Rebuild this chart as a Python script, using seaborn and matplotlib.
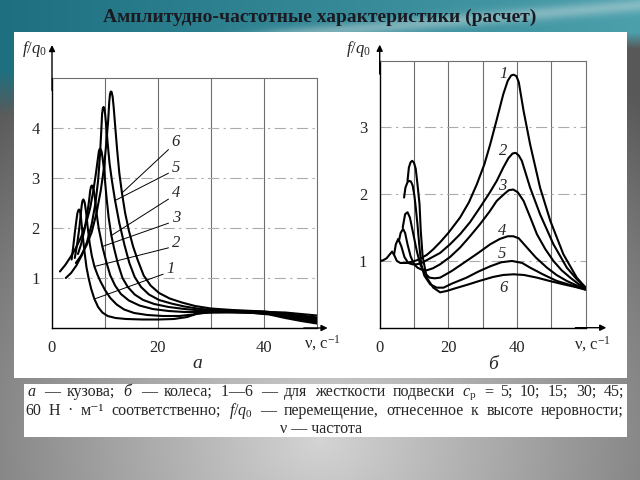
import numpy as np
import pandas as pd
import matplotlib
matplotlib.use("Agg")
import matplotlib.pyplot as plt
from matplotlib.patches import Rectangle
import seaborn as sns

# ---------------- data ----------------
curve_names = ["1", "2", "3", "4", "5", "6"]

# (a) body ("кузова")
body_x1 = [3.7, 4.0, 4.3, 4.6, 4.8, 4.95, 5.1, 5.25, 5.4, 5.55, 5.8, 6.1, 6.5, 6.9, 7.4, 8.0, 8.7, 9.5, 10.5, 12, 14, 17, 20, 23, 25.5, 27.5, 30, 34, 38, 41, 44, 47, 50]
body_y1 = [1.37, 1.62, 1.9, 2.15, 2.3, 2.35, 2.37, 2.35, 2.27, 2.12, 1.85, 1.55, 1.22, 1.0, 0.78, 0.58, 0.42, 0.31, 0.24, 0.2, 0.18, 0.17, 0.17, 0.18, 0.22, 0.29, 0.31, 0.31, 0.3, 0.27, 0.2, 0.14, 0.09]
body_x2 = [4.3, 4.7, 5.1, 5.4, 5.6, 5.75, 5.9, 6.05, 6.2, 6.45, 6.75, 7.1, 7.5, 8.0, 8.6, 9.2, 10, 11, 12.2, 13.6, 15.5, 18, 21, 24, 26.5, 29, 33, 37, 41, 44, 47, 50]
body_y2 = [1.4, 1.65, 1.95, 2.25, 2.45, 2.54, 2.57, 2.55, 2.49, 2.3, 2.0, 1.7, 1.45, 1.23, 1.06, 0.92, 0.76, 0.6, 0.47, 0.37, 0.3, 0.26, 0.24, 0.24, 0.27, 0.31, 0.32, 0.31, 0.28, 0.22, 0.17, 0.12]
body_x3 = [4.9, 5.5, 6.1, 6.6, 7.0, 7.2, 7.35, 7.5, 7.65, 7.85, 8.1, 8.4, 8.8, 9.5, 10.3, 11.0, 11.9, 13, 14.5, 16.5, 19, 22, 25, 28, 32, 36, 40, 44, 47, 50]
body_y3 = [1.48, 1.68, 1.95, 2.25, 2.55, 2.74, 2.82, 2.85, 2.84, 2.77, 2.6, 2.3, 2.0, 1.63, 1.3, 1.05, 0.85, 0.68, 0.55, 0.45, 0.38, 0.34, 0.32, 0.32, 0.33, 0.32, 0.3, 0.24, 0.2, 0.15]
body_x4 = [1.5, 2.5, 3.5, 4.5, 5.5, 6.4, 7.2, 7.8, 8.3, 8.7, 8.85, 9.0, 9.15, 9.35, 9.55, 9.75, 9.95, 10.3, 10.7, 11.2, 11.7, 12.4, 13.3, 14.3, 15.6, 17.2, 19.3, 22, 25, 28, 32, 36, 40, 44, 47, 50]
body_y4 = [1.13, 1.26, 1.42, 1.6, 1.82, 2.08, 2.4, 2.75, 3.1, 3.42, 3.54, 3.58, 3.58, 3.53, 3.4, 3.22, 3.0, 2.6, 2.2, 1.85, 1.6, 1.3, 1.0, 0.82, 0.67, 0.56, 0.48, 0.42, 0.38, 0.35, 0.34, 0.33, 0.32, 0.27, 0.23, 0.18]
body_x5 = [2.6, 3.6, 4.6, 5.6, 6.6, 7.5, 8.2, 8.7, 9.05, 9.3, 9.45, 9.6, 9.75, 9.9, 10.05, 10.25, 10.5, 10.85, 11.3, 11.9, 12.7, 13.7, 14.6, 15.6, 16.8, 18.3, 20.2, 22.5, 25, 28, 32, 36, 40, 44, 47, 50]
body_y5 = [1.0, 1.1, 1.25, 1.45, 1.72, 2.08, 2.5, 2.95, 3.45, 3.95, 4.28, 4.4, 4.42, 4.38, 4.25, 4.02, 3.7, 3.3, 2.95, 2.55, 2.1, 1.65, 1.3, 1.02, 0.82, 0.67, 0.56, 0.49, 0.43, 0.38, 0.35, 0.34, 0.33, 0.29, 0.25, 0.21]
body_x6 = [4.5, 5.5, 6.5, 7.5, 8.4, 9.2, 9.8, 10.25, 10.6, 10.8, 10.95, 11.1, 11.25, 11.45, 11.65, 11.95, 12.3, 12.7, 13.2, 13.8, 14.5, 15.3, 16.2, 17.3, 18.6, 20.2, 22.2, 24.5, 27, 30, 34, 38, 41, 44, 47, 50]
body_y6 = [1.3, 1.45, 1.65, 1.92, 2.3, 2.75, 3.2, 3.7, 4.15, 4.52, 4.68, 4.73, 4.72, 4.62, 4.4, 4.0, 3.55, 3.1, 2.7, 2.3, 1.95, 1.63, 1.35, 1.05, 0.85, 0.7, 0.59, 0.51, 0.44, 0.39, 0.36, 0.34, 0.32, 0.31, 0.28, 0.25]

# (б) wheel ("колеса")
wheel_x1 = [0, 1, 2, 2.8, 3.6, 4.3, 5, 6, 7.9, 9.5, 10.8, 12.3, 13.7, 15.5, 17.6, 20, 23.4, 26, 28.3, 30.5, 32.2, 34, 36, 37.3, 38.3, 39, 39.8, 40.5, 41.9, 43.8, 46.7, 49.7, 53.5, 57.4, 60]
wheel_y1 = [1.0, 1.01, 1.04, 1.09, 1.14, 1.08, 1.0, 0.97, 0.97, 0.99, 1.01, 1.05, 1.09, 1.17, 1.28, 1.42, 1.65, 1.88, 2.15, 2.45, 2.75, 3.1, 3.5, 3.7, 3.78, 3.79, 3.77, 3.68, 3.25, 2.75, 2.1, 1.6, 1.1, 0.75, 0.6]
wheel_x2 = [4.2, 4.7, 5.4, 6.3, 7.2, 8.3, 9.5, 10.8, 12.2, 14, 15.8, 17.6, 20.5, 23.4, 26.3, 29.2, 32, 34.1, 36, 37.5, 38.7, 39.6, 40.5, 41.4, 42.6, 43.8, 46.7, 50.6, 54.5, 57.5, 60]
wheel_y2 = [1.1, 1.25, 1.33, 1.22, 1.06, 0.97, 0.95, 0.95, 0.97, 1.02, 1.07, 1.12, 1.25, 1.4, 1.58, 1.8, 2.02, 2.2, 2.4, 2.54, 2.61, 2.62, 2.58, 2.5, 2.3, 2.1, 1.7, 1.25, 0.9, 0.72, 0.6]
wheel_x3 = [5.6, 6.1, 6.8, 7.4, 8.1, 9, 10, 11, 12.2, 13.7, 15.5, 17.6, 20.5, 23.4, 26.3, 29.2, 32, 34.1, 36.2, 37.6, 38.9, 40.2, 41.9, 43.8, 45.8, 48.2, 50.6, 53, 55.5, 58, 60]
wheel_y3 = [1.3, 1.42, 1.48, 1.42, 1.25, 1.07, 0.95, 0.9, 0.87, 0.86, 0.89, 0.95, 1.06, 1.2, 1.37, 1.55, 1.74, 1.9, 2.0, 2.06, 2.07, 2.03, 1.9, 1.66, 1.4, 1.18, 1.0, 0.86, 0.75, 0.65, 0.6]
wheel_x4 = [6.7, 7.4, 8.1, 8.8, 9.8, 10.8, 11.8, 12.9, 14.5, 16, 17.6, 21, 25.3, 28.7, 32.2, 35, 37.3, 38.9, 40.5, 42.9, 45.5, 48.7, 51.5, 54.5, 57.5, 60]
wheel_y4 = [1.5, 1.7, 1.73, 1.65, 1.4, 1.15, 0.95, 0.83, 0.75, 0.74, 0.75, 0.85, 1.0, 1.12, 1.25, 1.33, 1.37, 1.37, 1.34, 1.2, 1.05, 0.9, 0.79, 0.7, 0.63, 0.58]
wheel_x5 = [7.1, 7.5, 8.1, 8.6, 9.1, 9.6, 10.1, 10.5, 11.0, 11.5, 12.1, 13.0, 14.7, 16.6, 18.6, 21, 25.3, 28.7, 32.2, 35.4, 38.5, 41.5, 43.8, 47.5, 51.6, 55.5, 60]
wheel_y5 = [1.95, 2.1, 2.18, 2.2, 2.19, 2.13, 1.98, 1.8, 1.55, 1.25, 0.95, 0.78, 0.65, 0.6, 0.6, 0.66, 0.75, 0.84, 0.92, 0.98, 1.0, 0.97, 0.9, 0.8, 0.7, 0.64, 0.57]
wheel_x6 = [8.1, 8.5, 9.0, 9.5, 10.0, 10.5, 11.0, 11.6, 11.96, 12.5, 13.7, 15.6, 17.6, 19.5, 22, 25.3, 29, 33, 36, 39, 42, 45.8, 49.5, 53.5, 57, 60]
wheel_y6 = [2.2, 2.4, 2.48, 2.5, 2.47, 2.38, 2.15, 1.85, 1.45, 1.07, 0.75, 0.6, 0.53, 0.55, 0.59, 0.64, 0.7, 0.76, 0.79, 0.8, 0.79, 0.75, 0.7, 0.65, 0.61, 0.57]

body_xticks = [0, 20, 40]
body_yticks = [1, 2, 3, 4]
wheel_xticks = [0, 20, 40]
wheel_yticks = [1, 2, 3]

title_text = "Амплитудно-частотные характеристики (расчет)"
caption_1 = r"$а$ — кузова; $б$ — колеса; $\mathit{1}$—$\mathit{6}$ — для жесткости подвески $c_{\mathrm{p}}$ = 5; 10; 15; 30; 45;"
caption_2 = r"60 Н · м⁻¹ соответственно; $f/q_0$ — перемещение, отнесенное к высоте неровности;"
caption_3 = "ν — частота"

# ---------------- style ----------------
sns.set_style("white")
plt.rcParams["font.family"] = ["Liberation Serif", "DejaVu Serif"]
plt.rcParams["mathtext.fontset"] = "custom"
plt.rcParams["mathtext.rm"] = "Liberation Serif"
plt.rcParams["mathtext.it"] = "Liberation Serif:italic"
plt.rcParams["mathtext.bf"] = "Liberation Serif:bold"

W, H = 640, 480
fig = plt.figure(figsize=(6.4, 4.8), dpi=100)

# ---- background (slide) ----
bg = fig.add_axes([0, 0, 1, 1])
yy, xx = np.mgrid[0:H, 0:W].astype(float)
r = np.sqrt(((xx - 320) / 400) ** 2 + ((yy - 440) / 330) ** 2)
gray = np.clip(212 - 95 * np.clip(r, 0, 1.3), 0, 255)
img = np.stack([gray, gray, gray], axis=-1)
teal_l = np.array([30, 112, 128.0])
teal_r = np.array([75, 160, 172.0])
frac = (xx / W)[..., None]
teal = teal_l * (1 - frac) + teal_r * frac
t_top = np.clip((48 - yy) / 16, 0, 1)
t_left = np.clip((115 - yy) / 45, 0, 1) * np.clip((22 - xx) / 8, 0, 1)
t = np.maximum(t_top, t_left)[..., None]
img = img * (1 - t) + teal * t
band = np.exp(-((yy - (42 - (xx - 200) * 0.085)) / 7.0) ** 2) * np.clip((xx - 200) / 80, 0, 1)
band = (band * 0.45)[..., None]
img = img * (1 - band) + np.array([205, 220, 222.0]) * band
bg.imshow(img.astype(np.uint8), extent=[0, W, H, 0], aspect="auto")
bg.set_xlim(0, W)
bg.set_ylim(H, 0)
bg.axis("off")
bg.add_patch(Rectangle((14, 32), 613, 346, facecolor="white", edgecolor="none"))
bg.add_patch(Rectangle((24, 384), 603, 53, facecolor="white", edgecolor="none"))
bg.text(320, 17, title_text, ha="center", va="center", fontsize=14,
        fontweight="bold", color="#1a1a22")
bg.text(34, 49, r"$f/q_0$", ha="center", va="center", fontsize=12)
bg.text(358, 49, r"$f/q_0$", ha="center", va="center", fontsize=12)

cap_fs = 11.5
renderer = fig.canvas.get_renderer()


def justify_line(text, x0, x1, y_base):
    words = text.split(" ")
    objs = [bg.text(0, y_base, w, ha="left", va="baseline", fontsize=cap_fs) for w in words]
    widths = [o.get_window_extent(renderer).width for o in objs]
    gap = (x1 - x0 - sum(widths)) / (len(objs) - 1)
    x = x0
    for o, w in zip(objs, widths):
        o.set_x(x)
        x += w + gap


justify_line(caption_1, 27, 624, 396)
justify_line(caption_2, 25, 624, 415)
bg.text(321, 433, caption_3, ha="center", va="baseline", fontsize=cap_fs)

lw_curve = 1.5
grid_col = "#6e6e6e"


def frame(ax, xmax, ymax, vgrid, hgrid, ytip, xtip):
    ax.set_facecolor("none")
    ax.set_xlim(0, xmax)
    ax.set_ylim(0, ymax)
    for s in ["top", "right"]:
        ax.spines[s].set_color(grid_col)
        ax.spines[s].set_linewidth(0.8)
    for s in ["left", "bottom"]:
        ax.spines[s].set_color("black")
        ax.spines[s].set_linewidth(1.0)
    ax.vlines(vgrid, 0, ymax, colors=grid_col, linewidth=0.8, zorder=1)
    ax.hlines(hgrid, 0, xmax, colors="#ababab", linewidth=0.8,
              linestyles=(0, (10, 4, 2, 4)), zorder=1)
    ax.tick_params(length=0, labelsize=12, pad=9)
    ax.set_xlabel("")
    ax.set_ylabel("")
    ax.annotate("", xy=(0, ytip), xytext=(0, 0.95), xycoords="axes fraction",
                arrowprops=dict(arrowstyle="-|>", color="black", lw=1.0,
                                mutation_scale=9, shrinkA=0, shrinkB=0))
    ax.annotate("", xy=(xtip, 0), xytext=(0.95, 0), xycoords="axes fraction",
                arrowprops=dict(arrowstyle="-|>", color="black", lw=1.0,
                                mutation_scale=9, shrinkA=0, shrinkB=0))


# ---- (a) body ----
ax1 = fig.add_axes([52 / W, 1 - 328 / H, 265 / W, 250 / H])
bx = [body_x1, body_x2, body_x3, body_x4, body_x5, body_x6]
by = [body_y1, body_y2, body_y3, body_y4, body_y5, body_y6]
df_body = pd.concat([pd.DataFrame({"nu": x, "f": y, "curve": n})
                     for x, y, n in zip(bx, by, curve_names)], ignore_index=True)
sns.lineplot(data=df_body, x="nu", y="f", units="curve", estimator=None,
             sort=False, color="black", linewidth=lw_curve, ax=ax1, zorder=3)
frame(ax1, 50, 5, [10, 20, 30, 40], [1, 2, 3, 4], 1.132, 1.04)
ax1.set_xticks(body_xticks)
ax1.set_yticks(body_yticks)
ax1.text(51, -0.3, r"ν, с$^{-1}$", ha="center", va="center", fontsize=12, clip_on=False)
ax1.text(27.5, -0.7, r"$а$", ha="center", va="center", fontsize=14, clip_on=False)

body_label_pos = [(21.6, 1.18), (22.6, 1.7), (22.6, 2.2), (22.6, 2.7), (22.6, 3.21), (22.6, 3.71)]
body_leader_idx = [15, 13, 13, 19, 19, 18]
for x, y, n, (lx, ly), i in zip(bx, by, curve_names, body_label_pos, body_leader_idx):
    ax1.annotate(n, xy=(x[i], y[i]), xytext=(lx, ly), fontsize=12, style="italic",
                 ha="left", va="center",
                 arrowprops=dict(arrowstyle="-", color="black", lw=0.7,
                                 shrinkA=0, shrinkB=0, relpos=(0, 0.25)))

# ---- (б) wheel ----
ax2 = fig.add_axes([379.7 / W, 1 - 327.7 / H, 206 / W, 267 / H])
wx = [wheel_x1, wheel_x2, wheel_x3, wheel_x4, wheel_x5, wheel_x6]
wy = [wheel_y1, wheel_y2, wheel_y3, wheel_y4, wheel_y5, wheel_y6]
df_wheel = pd.concat([pd.DataFrame({"nu": x, "f": y, "curve": n})
                      for x, y, n in zip(wx, wy, curve_names)], ignore_index=True)
sns.lineplot(data=df_wheel, x="nu", y="f", units="curve", estimator=None,
             sort=False, color="black", linewidth=lw_curve, ax=ax2, zorder=3)
frame(ax2, 60, 4, [10, 20, 30, 40, 50], [1, 2, 3], 1.06, 1.10)
ax2.set_xticks(wheel_xticks)
ax2.set_yticks(wheel_yticks)
ax2.text(62, -0.24, r"ν, с$^{-1}$", ha="center", va="center", fontsize=12, clip_on=False)
ax2.text(33.3, -0.55, r"$б$", ha="center", va="center", fontsize=14, clip_on=False)
wheel_label_pos = [(36.1, 3.8), (35.9, 2.65), (35.6, 2.13), (35.6, 1.45), (35.6, 1.1), (36.1, 0.6)]
for n, (lx, ly) in zip(curve_names, wheel_label_pos):
    ax2.text(lx, ly, n, fontsize=12, style="italic", ha="center", va="center")

fig.savefig("out.png", dpi=100)
